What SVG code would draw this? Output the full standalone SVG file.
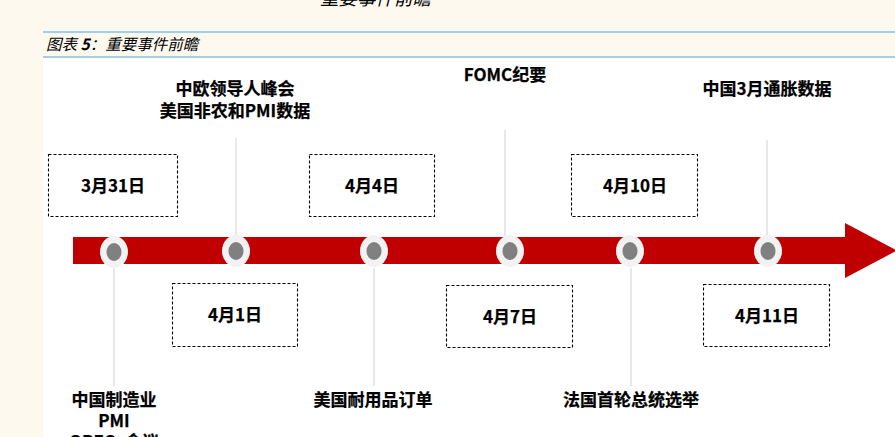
<svg xmlns="http://www.w3.org/2000/svg" width="895" height="437" viewBox="0 0 895 437">
<style>
.lbl{font-family:"Noto Sans CJK SC","Liberation Sans",sans-serif;font-weight:bold;font-size:17px;fill:#000;text-anchor:middle;stroke:#000;stroke-width:0.25}
.box{fill:none;stroke:#000;stroke-width:1.1;stroke-dasharray:3,2}
.vl{stroke:#d9d9d9;stroke-width:1.2}
.cap{font-family:"Noto Sans CJK SC","Liberation Sans",sans-serif;font-style:italic;font-size:15.5px;fill:#000}
</style>
<defs>
<g id="dot"><ellipse cx="0" cy="0" rx="14" ry="16" fill="#f2f2f2"/><ellipse cx="0" cy="0" rx="7.5" ry="9" fill="#808080"/></g>
</defs>
<rect x="0" y="0" width="895" height="437" fill="#fdf9ef"/>
<rect x="43" y="57" width="852" height="380" fill="#ffffff"/>
<line x1="43" y1="32" x2="895" y2="32" stroke="#7dc3e6" stroke-width="1.5"/>
<line x1="43" y1="57" x2="895" y2="57" stroke="#7dc3e6" stroke-width="1.5"/>
<text x="320" y="5" font-family="'Noto Sans CJK SC',sans-serif" font-style="italic" font-size="18.5" fill="#000">重要事件前瞻</text>
<text class="cap" x="46" y="50">图表 <tspan font-weight="bold">5</tspan>：重要事件前瞻</text>

<g id="connectors">
<line class="vl" x1="114" y1="268" x2="114" y2="386"/>
<line class="vl" x1="236" y1="138" x2="236" y2="236"/>
<line class="vl" x1="374" y1="268" x2="374" y2="386"/>
<line class="vl" x1="505" y1="130" x2="505" y2="236"/>
<line class="vl" x1="631" y1="268" x2="631" y2="386"/>
<line class="vl" x1="767" y1="140" x2="767" y2="236"/>
</g>

<g id="arrow">
<polygon points="73,237 845,237 845,223 897,250.5 845,278 845,264 73,264" fill="#c00000"/>
</g>

<g id="dots">
<use href="#dot" x="114" y="252"/>
<use href="#dot" x="236" y="251"/>
<use href="#dot" x="374" y="251"/>
<use href="#dot" x="510" y="251"/>
<use href="#dot" x="630" y="251"/>
<use href="#dot" x="768" y="251"/>
</g>

<g id="d0331"><rect class="box" x="48.5" y="154.5" width="129" height="62"/><text class="lbl" x="113" y="192">3月31日</text></g>
<g id="d0401"><rect class="box" x="172.5" y="283.5" width="125" height="63"/><text class="lbl" x="235" y="321">4月1日</text></g>
<g id="d0404"><rect class="box" x="309.5" y="154.5" width="125" height="62"/><text class="lbl" x="372" y="192">4月4日</text></g>
<g id="d0407"><rect class="box" x="446.5" y="285.5" width="126" height="62"/><text class="lbl" x="510" y="323">4月7日</text></g>
<g id="d0410"><rect class="box" x="571.5" y="154.5" width="126" height="62"/><text class="lbl" x="635" y="192">4月10日</text></g>
<g id="d0411"><rect class="box" x="703.5" y="284.5" width="126" height="62"/><text class="lbl" x="767" y="322">4月11日</text></g>

<g id="e1"><text class="lbl" x="114" y="406">中国制造业</text><text class="lbl" x="114" y="427">PMI</text><text class="lbl" x="114" y="448">OPEC+会议</text></g>
<g id="e2"><text class="lbl" x="235" y="95">中欧领导人峰会</text><text class="lbl" x="235" y="117">美国非农和PMI数据</text></g>
<g id="e3"><text class="lbl" x="373" y="406">美国耐用品订单</text></g>
<g id="e4"><text class="lbl" x="505" y="81">FOMC纪要</text></g>
<g id="e5"><text class="lbl" x="631" y="406">法国首轮总统选举</text></g>
<g id="e6"><text class="lbl" x="767" y="95">中国3月通胀数据</text></g>
</svg>
